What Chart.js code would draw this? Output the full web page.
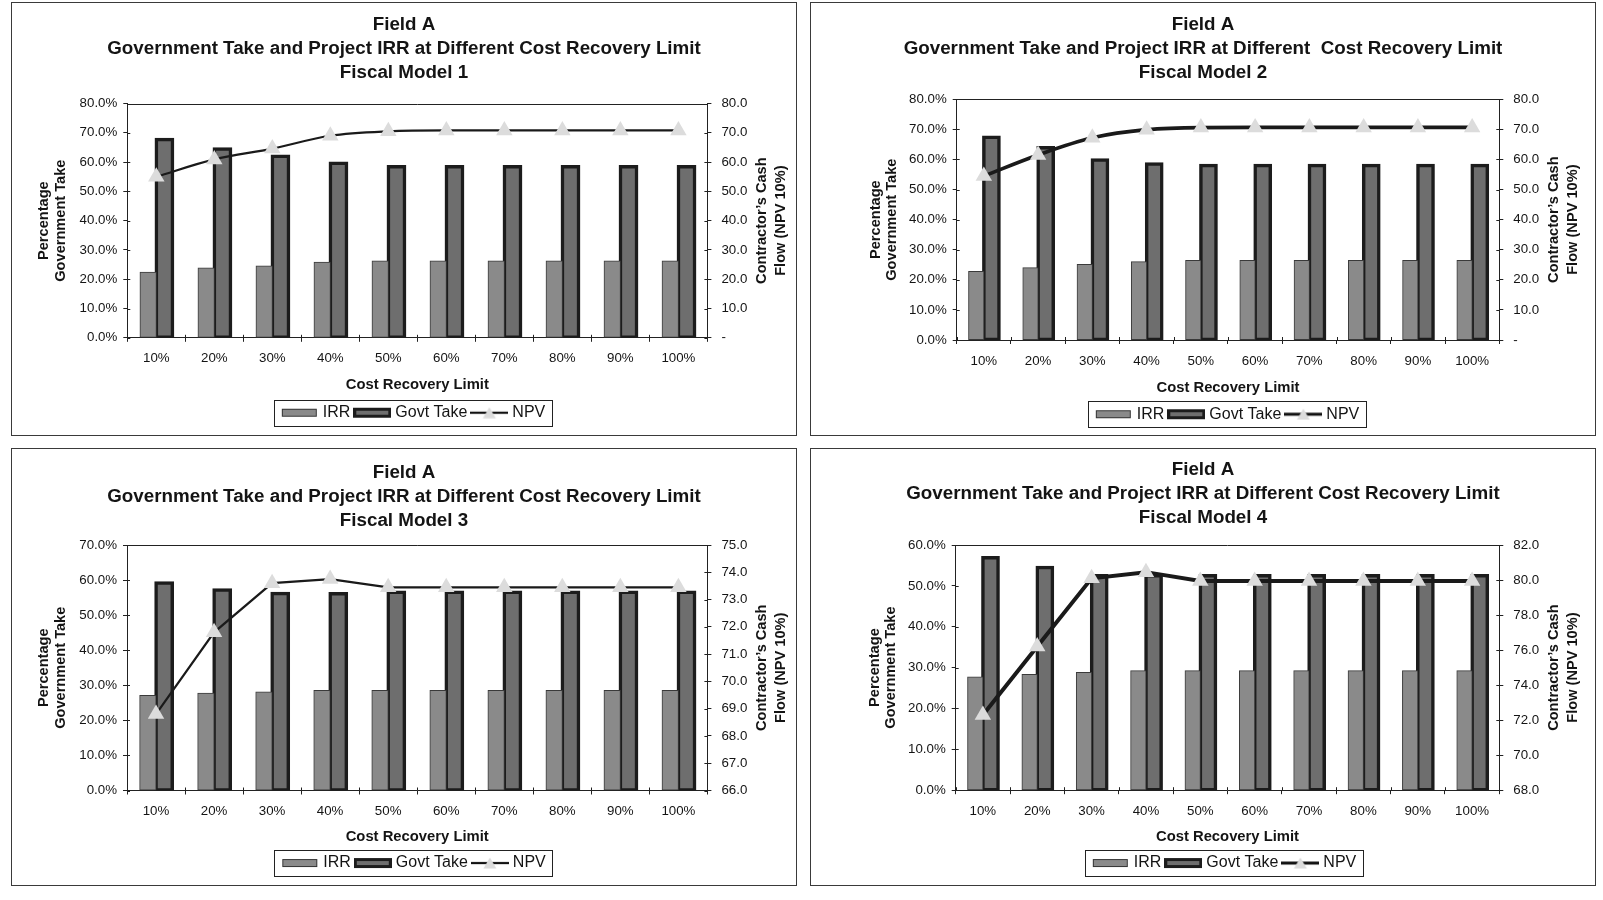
<!DOCTYPE html>
<html>
<head>
<meta charset="utf-8">
<script src="https://cdn.jsdelivr.net/npm/chart.js@4/dist/chart.umd.min.js"></script>
<style>
html,body{margin:0;padding:0;background:#fff;}
body{width:1603px;height:900px;position:relative;overflow:hidden;}
.panel{position:absolute;border:1px solid #3a3a3a;box-sizing:border-box;background:#fff;}
.panel canvas{position:absolute;left:0;top:0;}
</style>
</head>
<body>
<script>
// ---------------- data ----------------
const categories = ['10%','20%','30%','40%','50%','60%','70%','80%','90%','100%'];

const irr1  = [22.4, 23.8, 24.5, 25.8, 26.2, 26.2, 26.2, 26.2, 26.2, 26.2];
const govt1 = [67.7, 64.5, 62.0, 59.6, 58.4, 58.4, 58.4, 58.4, 58.4, 58.4];
const npv1  = [55.0, 60.9, 64.6, 69.0, 70.5, 70.8, 70.8, 70.8, 70.8, 70.8];

const irr2  = [22.8, 24.0, 25.1, 26.0, 26.4, 26.4, 26.4, 26.4, 26.4, 26.4];
const govt2 = [67.4, 63.9, 59.8, 58.5, 58.0, 58.0, 58.0, 58.0, 58.0, 58.0];
const npv2  = [54.5, 61.5, 67.2, 69.9, 70.6, 70.65, 70.65, 70.65, 70.65, 70.65];

const irr3  = [27.1, 27.7, 28.1, 28.5, 28.5, 28.5, 28.5, 28.5, 28.5, 28.5];
const govt3 = [59.2, 57.2, 56.2, 56.1, 56.5, 56.5, 56.5, 56.5, 56.5, 56.5];
const npv3  = [68.8, 71.8, 73.6, 73.75, 73.45, 73.45, 73.45, 73.45, 73.45, 73.45];

const irr4  = [27.7, 28.3, 28.8, 29.2, 29.2, 29.2, 29.2, 29.2, 29.2, 29.2];
const govt4 = [56.9, 54.5, 52.5, 52.5, 52.5, 52.5, 52.5, 52.5, 52.5, 52.5];
const npv4  = [72.3, 76.2, 80.1, 80.45, 79.95, 79.95, 79.95, 79.95, 79.95, 79.95];

const seriesNames = ['IRR', 'Govt Take', 'NPV'];
const modelNames = ['Fiscal Model 1', 'Fiscal Model 2', 'Fiscal Model 3', 'Fiscal Model 4'];
const titleLine1 = 'Field A';
const titleLine2 = ['Government Take and Project IRR at Different Cost Recovery Limit',
                    'Government Take and Project IRR at Different  Cost Recovery Limit',
                    'Government Take and Project IRR at Different Cost Recovery Limit',
                    'Government Take and Project IRR at Different Cost Recovery Limit'];
const xAxisTitle = 'Cost Recovery Limit';
const leftAxisTitle = ['Percentage', 'Government Take'];
const rightAxisTitle = ['Contractor\u2019s Cash', 'Flow (NPV 10%)'];

// axis ranges: [min, max, step]
const leftRanges  = [[0, 80, 10], [0, 80, 10], [0, 70, 10], [0, 60, 10]];
const rightRanges = [[0, 80, 10], [0, 80, 10], [66, 75, 1], [68, 82, 2]];

const irrSets  = [irr1, irr2, irr3, irr4];
const govtSets = [govt1, govt2, govt3, govt4];
const npvSets  = [npv1, npv2, npv3, npv4];

// ---------------- layout / style ----------------
const layouts = [
  {left:11,  top:2,   w:786, h:434, yW:115.3, rW:88.6, tT:10,   tB:18.5, xH:59.95, xPB:3.97, pB:4.25, legC:401,   lOff:[-83,-66], rOff:[55,74], lw:2.2, smooth:true},
  {left:810, top:2,   w:786, h:434, yW:145.7, rW:95.7, tT:10,   tB:14.3, xH:59.25, xPB:2.47, pB:2.75, legC:416,   lOff:[-81,-65], rOff:[55,74], lw:3.7, smooth:true},
  {left:11,  top:448, w:786, h:438, yW:115,   rW:88.6, tT:11.8, tB:12.2, xH:57.55, xPB:2.47, pB:3.95, legC:401.5, lOff:[-83,-66], rOff:[55,74], lw:2.2, smooth:false},
  {left:810, top:448, w:786, h:438, yW:144.7, rW:95.7, tT:9.2,  tB:14.8, xH:57.85, xPB:2.47, pB:3.95, legC:413,   lOff:[-81,-65], rOff:[55,74], lw:4.0, smooth:false}
];

const FONT = '"Liberation Sans", Arial, Helvetica, sans-serif';
const TXT = '#141414';
const AX = '#222';
const IRR_FILL = '#8a8a8a';
const GOVT_FILL = '#6e6e6e';
const GOVT_EDGE = '#1c1c1c';
const TRI = '#dcdcdc';

Chart.defaults.font.family = FONT;
Chart.defaults.color = TXT;

function makeIcon(kind, lw) {
  const c = document.createElement('canvas');
  c.width = 38; c.height = 12;
  const g = c.getContext('2d');
  if (kind === 0) {
    g.fillStyle = '#333'; g.fillRect(1, 2, 35, 8);
    g.fillStyle = IRR_FILL; g.fillRect(2, 3, 33, 6);
  } else if (kind === 1) {
    g.fillStyle = GOVT_EDGE; g.fillRect(0, 1, 38, 10);
    g.fillStyle = GOVT_FILL; g.fillRect(3, 4, 32, 4);
  } else {
    g.fillStyle = '#111'; g.fillRect(0, 6 - lw / 2, 38, lw);
    g.fillStyle = TRI;
    g.beginPath(); g.moveTo(19, 0.5); g.lineTo(25.5, 11.5); g.lineTo(12.5, 11.5); g.closePath(); g.fill();
  }
  return c;
}

const decor = {
  id: 'decor',
  afterUpdate(chart, args, o) {
    const lg = chart.legend;
    const hb = lg && lg.legendHitBoxes;
    if (!hb || !hb.length) return;
    let l = Infinity, r = -Infinity;
    hb.forEach(h => { l = Math.min(l, h.left); r = Math.max(r, h.left + h.width); });
    const d = o.legC - ((l + r) / 2 - 2);
    lg.left += d; lg.right += d;
    hb.forEach(h => { h.left += d; });
  },
  beforeDatasetsDraw(chart, args, o) {
    const {ctx, chartArea: a} = chart;
    ctx.save();
    ctx.strokeStyle = AX; ctx.lineWidth = 1;
    ctx.beginPath();
    const ty = Math.round(a.top) + 0.5;
    ctx.moveTo(a.left, ty); ctx.lineTo(a.right, ty);
    // inward halves of the cross tick marks
    const yl = chart.scales.y, yr = chart.scales.y2;
    yl.ticks.forEach((t, i) => { const p = Math.round(yl.getPixelForTick(i)) + 0.5; ctx.moveTo(a.left, p); ctx.lineTo(a.left + 3, p); });
    yr.ticks.forEach((t, i) => { const p = Math.round(yr.getPixelForTick(i)) + 0.5; ctx.moveTo(a.right, p); ctx.lineTo(a.right - 3, p); });
    const n = chart.data.labels.length;
    for (let i = 0; i <= n; i++) {
      const p = Math.round(a.left + (a.right - a.left) * i / n) + 0.5;
      ctx.moveTo(p, a.bottom); ctx.lineTo(p, a.bottom - 3);
    }
    ctx.stroke();
    ctx.restore();
  },
  afterDraw(chart, args, o) {
    const {ctx, chartArea: a} = chart;
    const cy = (a.top + a.bottom) / 2;
    ctx.save();
    ctx.fillStyle = TXT;
    ctx.font = 'bold 14.6px ' + FONT;
    ctx.textAlign = 'center'; ctx.textBaseline = 'middle';
    o.left.forEach((t, i) => {
      ctx.save(); ctx.translate(a.left + o.lOff[i], cy); ctx.rotate(-Math.PI / 2); ctx.fillText(t, 0, 0); ctx.restore();
    });
    o.right.forEach((t, i) => {
      ctx.save(); ctx.translate(a.right + o.rOff[i], cy); ctx.rotate(-Math.PI / 2); ctx.fillText(t, 0, 0); ctx.restore();
    });
    // legend frame
    const hb = chart.legend && chart.legend.legendHitBoxes;
    if (hb && hb.length) {
      let l = Infinity, r = -Infinity, t = Infinity, b = -Infinity;
      hb.forEach(h => { l = Math.min(l, h.left); r = Math.max(r, h.left + h.width); t = Math.min(t, h.top); b = Math.max(b, h.top + h.height); });
      ctx.strokeStyle = AX; ctx.lineWidth = 1;
      ctx.strokeRect(Math.round(l - 11) + 0.5, Math.round(t - 5) + 0.5, Math.round(r - l + 18), Math.round(b - t + 10));
    }
    ctx.restore();
  }
};

function build(i) {
  const L = layouts[i];
  const div = document.createElement('div');
  div.className = 'panel';
  div.style.left = L.left + 'px'; div.style.top = L.top + 'px';
  div.style.width = L.w + 'px'; div.style.height = L.h + 'px';
  const cv = document.createElement('canvas');
  cv.width = L.w - 2; cv.height = L.h - 2;
  cv.style.width = (L.w - 2) + 'px'; cv.style.height = (L.h - 2) + 'px';
  div.appendChild(cv);
  document.body.appendChild(div);

  const icons = [makeIcon(0), makeIcon(1), makeIcon(2, Math.min(L.lw, 3))];
  const lr = leftRanges[i], rr = rightRanges[i];

  new Chart(cv, {
    type: 'bar',
    data: {
      labels: categories,
      datasets: [
        {label: seriesNames[0], data: irrSets[i], yAxisID: 'y', backgroundColor: IRR_FILL, borderColor: '#3a3a3a',
         borderWidth: 1, borderSkipped: false, inflateAmount: 0.5, order: 1, categoryPercentage: 0.56, barPercentage: 1},
        {label: seriesNames[1], data: govtSets[i], yAxisID: 'y', backgroundColor: GOVT_FILL, borderColor: GOVT_EDGE,
         borderWidth: 3.5, borderSkipped: false, inflateAmount: 1.75, order: 1, categoryPercentage: 0.56, barPercentage: 1},
        {type: 'line', label: seriesNames[2], data: npvSets[i], yAxisID: 'y2', borderColor: '#1a1a1a', borderWidth: L.lw,
         tension: L.smooth ? 0.4 : 0, cubicInterpolationMode: L.smooth ? 'monotone' : 'default',
         pointStyle: 'triangle', pointRadius: 9.5, pointBackgroundColor: TRI, pointBorderColor: TRI, pointBorderWidth: 0,
         order: 0, fill: false}
      ]
    },
    options: {
      responsive: false, animation: false, devicePixelRatio: 1,
      layout: {padding: {left: 0, right: 0, top: 0, bottom: L.pB}},
      plugins: {
        tooltip: {enabled: false},
        title: {
          display: true, text: [titleLine1, titleLine2[i], modelNames[i]], color: TXT,
          font: {size: 18.8, weight: 'bold', family: FONT, lineHeight: '24px'},
          padding: {top: L.tT, bottom: L.tB}
        },
        legend: {
          display: true, position: 'bottom', fullSize: false,
          labels: {
            usePointStyle: true, pointStyleWidth: 30, padding: 7, color: TXT,
            font: {size: 16, family: FONT},
            generateLabels: (chart) => chart.data.datasets.map((ds, k) => ({
              text: ds.label, pointStyle: icons[k], datasetIndex: k, hidden: false,
              lineWidth: 0, fillStyle: 'rgba(0,0,0,0)', strokeStyle: 'rgba(0,0,0,0)', fontColor: TXT
            }))
          }
        },
        decor: {left: leftAxisTitle, right: rightAxisTitle, lOff: L.lOff, rOff: L.rOff, legC: L.legC}
      },
      scales: {
        x: {
          offset: true,
          grid: {display: true, drawOnChartArea: false, drawTicks: true, tickLength: 4, color: AX, offset: true},
          border: {display: true, color: AX, width: 1},
          ticks: {font: {size: 13.3}, color: TXT, padding: 9, maxRotation: 0, autoSkip: false},
          title: {display: true, text: xAxisTitle, color: TXT, font: {size: 14.8, weight: 'bold'}, padding: {top: 0, bottom: L.xPB}},
          afterFit: s => { s.height = L.xH; }
        },
        y: {
          position: 'left', min: lr[0], max: lr[1],
          ticks: {stepSize: lr[2], font: {size: 13.3}, color: TXT, padding: 6, callback: v => Number(v).toFixed(1) + '%'},
          grid: {display: true, drawOnChartArea: false, drawTicks: true, tickLength: 4, color: AX},
          border: {display: true, color: AX, width: 1},
          afterFit: s => { s.width = L.yW; }
        },
        y2: {
          position: 'right', min: rr[0], max: rr[1],
          ticks: {stepSize: rr[2], font: {size: 13.3}, color: TXT, padding: 10, callback: v => (Number(v) === 0 ? '-' : Number(v).toFixed(1))},
          grid: {display: true, drawOnChartArea: false, drawTicks: true, tickLength: 4, color: AX},
          border: {display: true, color: AX, width: 1},
          afterFit: s => { s.width = L.rW; }
        }
      }
    },
    plugins: [decor]
  });
}

for (let i = 0; i < 4; i++) build(i);
</script>
</body>
</html>
